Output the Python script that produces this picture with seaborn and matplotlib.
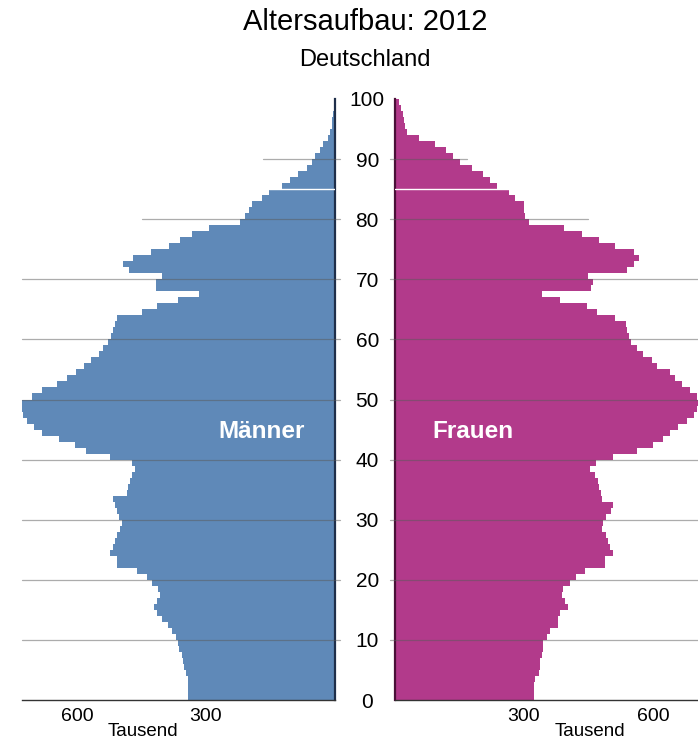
import numpy as np
import pandas as pd
from matplotlib import pyplot as plt
import seaborn as sns

# Bevoelkerung Deutschland 2012, in Tausend, Alter 0..99
ages = list(range(0, 100))
maenner = [341, 341, 341, 343, 347, 351, 353, 357, 362, 366,
           370, 378, 388, 403, 415, 422, 415, 408, 411, 426,
           438, 461, 506, 508, 523, 516, 512, 508, 500, 496,
           502, 508, 512, 516, 484, 481, 477, 473, 465, 473,
           524, 578, 605, 643, 682, 701, 717, 726, 734, 736,
           705, 682, 647, 624, 602, 584, 568, 550, 539, 527,
           522, 517, 512, 508, 450, 413, 365, 316, 417, 417,
           402, 478, 494, 470, 429, 385, 360, 333, 292, 222,
           209, 199, 192, 170, 153, 124, 105, 85, 64, 54,
           46, 36, 27, 16, 12, 8, 6, 5, 3, 2]
frauen = [323, 323, 323, 326, 336, 337, 337, 341, 345, 345,
          353, 360, 380, 380, 384, 403, 395, 388, 391, 407,
          422, 442, 488, 488, 508, 500, 496, 492, 481, 484,
          491, 502, 508, 482, 479, 475, 473, 465, 453, 467,
          508, 562, 601, 624, 640, 659, 680, 695, 703, 708,
          702, 686, 667, 651, 640, 610, 597, 578, 562, 548,
          545, 539, 537, 513, 471, 446, 385, 343, 455, 460,
          448, 540, 556, 568, 556, 512, 475, 436, 394, 312,
          302, 300, 300, 279, 266, 238, 221, 204, 178, 151,
          134, 119, 93, 57, 29, 24, 21, 18, 15, 9]
age_ticks = list(range(0, 101, 10))
x_ticks_m = [600, 300]
x_ticks_f = [300, 600]

df = pd.DataFrame({"Alter": ages, "Maenner": maenner, "Frauen": frauen})

sns.set_style("white")
plt.rcParams['font.family'] = ['Liberation Sans', 'DejaVu Sans']
plt.rcParams['text.color'] = 'black'
plt.rcParams['xtick.color'] = 'black'
plt.rcParams['ytick.color'] = 'black'

blue = "#5f89b8"
magenta = "#b23a8b"
grid_col = "#5a5a5a"

W, H = 698, 740
fig = plt.figure(figsize=(W / 100, H / 100), dpi=100)
axL = fig.add_axes([22 / W, 40 / H, 313 / W, 601 / H])
axR = fig.add_axes([395 / W, 40 / H, 303 / W, 601 / H])

sns.histplot(data=df, y="Alter", weights="Maenner", binwidth=1, binrange=(0, 100),
             color=blue, alpha=1, linewidth=0, ax=axL)
sns.histplot(data=df, y="Alter", weights="Frauen", binwidth=1, binrange=(0, 100),
             color=magenta, alpha=1, linewidth=0, ax=axR)

axL.set_xlim(728, 0)
axR.set_xlim(0, 705)
for ax in (axL, axR):
    ax.set_ylim(0, 100)
    ax.set_xlabel("")
    ax.set_ylabel("")
    ax.spines["top"].set_visible(False)
    ax.spines["bottom"].set_color("#333333")
    ax.spines["bottom"].set_linewidth(1.0)
    ax.tick_params(axis="x", direction="out", length=4, width=0.8, color="#555555",
                   labelsize=14, pad=2)

axL.spines["left"].set_visible(False)
axL.spines["right"].set_color("#1f2f4a")
axL.spines["right"].set_linewidth(1.6)
axR.spines["right"].set_visible(False)
axR.spines["left"].set_color("#4a1038")
axR.spines["left"].set_linewidth(1.6)

axL.set_xticks(x_ticks_m)
axL.set_xticklabels([str(v) for v in x_ticks_m])
axR.set_xticks(x_ticks_f)
axR.set_xticklabels([str(v) for v in x_ticks_f])

# Altersachse in der Mitte
axL.set_yticks([])
axR.set_yticks(age_ticks)
axR.set_yticklabels([str(a) for a in age_ticks], fontsize=15)
axR.tick_params(axis="y", length=0, pad=20)
for lab in axR.get_yticklabels():
    lab.set_horizontalalignment("center")

# Gitterlinien (teilweise), ueber den Balken
for a in age_ticks[1:8]:
    axL.axhline(a, xmin=0, xmax=1.016, color=grid_col, lw=0.9, alpha=0.5, zorder=3, clip_on=False)
    axR.axhline(a, xmin=-0.017, xmax=1, color=grid_col, lw=0.9, alpha=0.5, zorder=3, clip_on=False)
axL.axhline(80, xmin=0.383, xmax=1.016, color=grid_col, lw=0.9, alpha=0.5, zorder=3, clip_on=False)
axL.axhline(90, xmin=0.77, xmax=1.016, color=grid_col, lw=0.9, alpha=0.5, zorder=3, clip_on=False)
axR.axhline(80, xmin=-0.017, xmax=0.637, color=grid_col, lw=0.9, alpha=0.5, zorder=3, clip_on=False)
axR.axhline(90, xmin=-0.017, xmax=0.238, color=grid_col, lw=0.9, alpha=0.5, zorder=3, clip_on=False)
axL.axhline(85, xmin=0.79, xmax=1, color="white", lw=1.0, zorder=3)
axR.axhline(85, xmin=0, xmax=0.376, color="white", lw=1.0, zorder=3)

fig.text(365 / W, 1 - 22 / H, "Altersaufbau: 2012", ha="center", va="center", fontsize=21)
fig.text(365 / W, 1 - 60 / H, "Deutschland", ha="center", va="center", fontsize=17)
fig.text(262 / W, 1 - 431 / H, "Männer", ha="center", va="center", fontsize=17.5,
         fontweight="bold", color="white")
fig.text(473 / W, 1 - 431 / H, "Frauen", ha="center", va="center", fontsize=17.5,
         fontweight="bold", color="white")
fig.text(143 / W, 1 - 732 / H, "Tausend", ha="center", va="center", fontsize=13.5)
fig.text(590 / W, 1 - 732 / H, "Tausend", ha="center", va="center", fontsize=13.5)

fig.savefig("out.png", dpi=100)
